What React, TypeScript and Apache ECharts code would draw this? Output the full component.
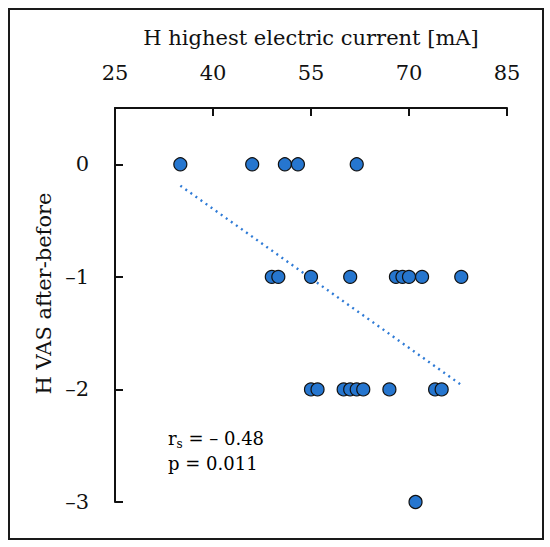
import React, { useEffect, useRef } from "react";
import * as echarts from "echarts";

// Highest electric current [mA] for each VAS change group
const currentAtVas0 = [35, 46, 51, 53, 62];
const currentAtVasMinus1 = [49, 50, 55, 61, 68, 69, 70, 72, 78];
const currentAtVasMinus2 = [55, 56, 60, 61, 62, 63, 67, 74, 75];
const currentAtVasMinus3 = [71];
const vasLevels = [0, -1, -2, -3];

// Linear trend line end points
const trendLine = [
  [35, -0.19],
  [78, -1.96],
];

const xTitle = "H highest electric current [mA]";
const yTitle = "H VAS after-before";
const statLine1 = "– 0.48";
const statLine2 = "p = 0.011";

const FONT = "'DejaVu Serif', 'Liberation Serif', serif";

export default function App() {
  const ref = useRef<HTMLDivElement>(null);

  useEffect(() => {
    const chart = echarts.init(ref.current!, null, { renderer: "svg" });
    const groups = [currentAtVas0, currentAtVasMinus1, currentAtVasMinus2, currentAtVasMinus3];
    const points: number[][] = [];
    groups.forEach((g, i) => g.forEach((x) => points.push([x, vasLevels[i]])));

    chart.setOption({
      animation: false,
      backgroundColor: "#fff",
      grid: { left: 115, top: 108, right: 43, bottom: 45, containLabel: false },
      xAxis: {
        type: "value",
        position: "top",
        min: 25,
        max: 85,
        interval: 15,
        name: xTitle,
        nameLocation: "middle",
        nameGap: 60,
        nameTextStyle: { fontFamily: FONT, fontSize: 21, color: "#111" },
        axisLine: { show: true, onZero: false, lineStyle: { color: "#111", width: 2 } },
        axisTick: { show: true, inside: true, length: 8, lineStyle: { color: "#111", width: 2 } },
        axisLabel: { margin: 25, fontFamily: FONT, fontSize: 21, color: "#111" },
        splitLine: { show: false },
      },
      yAxis: {
        type: "value",
        min: -3,
        max: 0.5,
        interval: 1,
        name: yTitle,
        nameLocation: "middle",
        nameGap: 58,
        nameTextStyle: { fontFamily: FONT, fontSize: 21, color: "#111", padding: [0, 0, 0, 23] },
        axisLine: { show: true, onZero: false, lineStyle: { color: "#111", width: 2 } },
        axisTick: { show: true, inside: true, length: 8, lineStyle: { color: "#111", width: 2 } },
        axisLabel: {
          margin: 26,
          fontFamily: FONT,
          fontSize: 21,
          color: "#111",
          formatter: (v: number) => {
            if (Math.abs(v - Math.round(v)) > 1e-6) return "";
            return v < 0 ? "–" + String(-v) : String(v);
          },
        },
        splitLine: { show: false },
      },
      series: [
        {
          type: "line",
          data: trendLine,
          showSymbol: false,
          silent: true,
          z: 1,
          lineStyle: { color: "#2f7bd6", width: 2.4, type: [2, 4.2] },
        },
        {
          type: "scatter",
          data: points,
          symbol: "circle",
          symbolSize: 13,
          z: 2,
          itemStyle: { color: "#2676cf", borderColor: "#111", borderWidth: 1.2, opacity: 1 },
        },
      ],
      graphic: [
        {
          type: "rect",
          shape: { x: 9, y: 9, width: 534, height: 530 },
          style: { fill: "none", stroke: "#1a1a1a", lineWidth: 2 },
          silent: true,
        },
        {
          type: "text",
          x: 168,
          y: 426,
          style: {
            text: "{m|r}{s|s}{m| = " + statLine1 + "}\n{m|" + statLine2 + "}",
            rich: {
              m: { fontFamily: FONT, fontSize: 18, color: "#111", lineHeight: 25 },
              s: { fontFamily: FONT, fontSize: 12, color: "#111", lineHeight: 25, padding: [10, 0, 0, 0] },
            },
          },
          silent: true,
        },
      ],
    });
    return () => chart.dispose();
  }, []);

  return (
    <div
      ref={ref}
      style={{ position: "fixed", left: 0, top: 0, width: 550, height: 547, background: "#fff" }}
    />
  );
}
